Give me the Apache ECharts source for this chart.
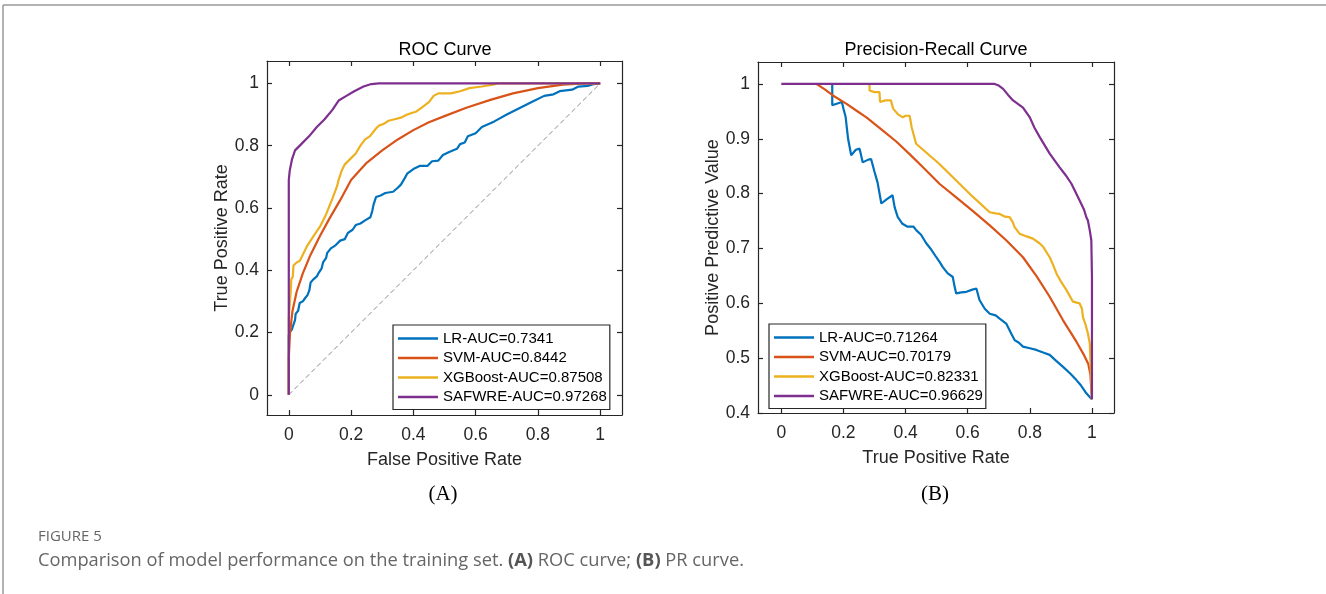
<!DOCTYPE html>
<html><head><meta charset="utf-8">
<script src="https://cdn.jsdelivr.net/npm/echarts@6/dist/echarts.min.js"></script>
<style>html,body{margin:0;padding:0;background:#fff}#c{width:1326px;height:594px}</style>
</head><body><div id="c"></div>
<script>
// ---------- data ----------
const rocTicks = [0, 0.2, 0.4, 0.6, 0.8, 1];
const prXTicks = [0, 0.2, 0.4, 0.6, 0.8, 1];
const prYTicks = [0.4, 0.5, 0.6, 0.7, 0.8, 0.9, 1];

const rocNames = ['LR-AUC=0.7341', 'SVM-AUC=0.8442', 'XGBoost-AUC=0.87508', 'SAFWRE-AUC=0.97268'];
const prNames = ['LR-AUC=0.71264', 'SVM-AUC=0.70179', 'XGBoost-AUC=0.82331', 'SAFWRE-AUC=0.96629'];

const rocDiagonal = [[0, 0], [1, 1]];

const rocLR = [[0,0],[0,0.19],[0.003,0.2],[0.01,0.21],[0.015,0.225],[0.02,0.24],[0.022,0.26],[0.03,0.27],[0.035,0.295],[0.045,0.3],[0.052,0.31],[0.06,0.32],[0.066,0.335],[0.07,0.36],[0.078,0.37],[0.09,0.38],[0.095,0.39],[0.105,0.405],[0.11,0.425],[0.12,0.44],[0.123,0.455],[0.135,0.47],[0.15,0.48],[0.165,0.495],[0.18,0.5],[0.19,0.52],[0.205,0.53],[0.215,0.545],[0.23,0.55],[0.245,0.56],[0.262,0.57],[0.268,0.59],[0.272,0.61],[0.28,0.635],[0.295,0.64],[0.31,0.648],[0.335,0.652],[0.35,0.665],[0.36,0.675],[0.372,0.695],[0.38,0.71],[0.4,0.725],[0.42,0.735],[0.445,0.735],[0.46,0.75],[0.48,0.752],[0.495,0.77],[0.515,0.78],[0.54,0.79],[0.55,0.805],[0.565,0.81],[0.575,0.83],[0.6,0.84],[0.62,0.86],[0.66,0.878],[0.7,0.9],[0.74,0.92],[0.78,0.94],[0.82,0.96],[0.85,0.965],[0.87,0.975],[0.91,0.98],[0.93,0.99],[0.96,0.992],[0.98,0.998],[1,1]];
const rocSVM = [[0,0],[0,0.12],[0.004,0.2],[0.012,0.27],[0.025,0.33],[0.045,0.39],[0.07,0.45],[0.1,0.51],[0.13,0.565],[0.165,0.625],[0.2,0.69],[0.25,0.745],[0.3,0.785],[0.35,0.82],[0.4,0.85],[0.45,0.875],[0.5,0.895],[0.57,0.922],[0.65,0.948],[0.72,0.968],[0.8,0.985],[0.88,0.996],[0.95,1],[1,1]];
const rocXGB = [[0,0],[0,0.25],[0.003,0.29],[0.006,0.33],[0.008,0.37],[0.013,0.38],[0.015,0.415],[0.025,0.425],[0.035,0.43],[0.045,0.45],[0.06,0.48],[0.08,0.51],[0.1,0.54],[0.12,0.58],[0.14,0.63],[0.155,0.67],[0.16,0.69],[0.17,0.72],[0.18,0.74],[0.2,0.76],[0.215,0.775],[0.23,0.8],[0.245,0.82],[0.26,0.83],[0.28,0.855],[0.29,0.865],[0.305,0.87],[0.32,0.88],[0.34,0.885],[0.36,0.89],[0.38,0.9],[0.41,0.91],[0.43,0.925],[0.45,0.94],[0.465,0.96],[0.48,0.968],[0.52,0.968],[0.55,0.975],[0.58,0.985],[0.62,0.99],[0.66,0.997],[0.67,1],[1,1]];
const rocSAF = [[0,0],[0,0.69],[0.003,0.72],[0.01,0.755],[0.02,0.785],[0.04,0.805],[0.065,0.83],[0.09,0.86],[0.115,0.885],[0.14,0.915],[0.16,0.945],[0.185,0.96],[0.21,0.975],[0.24,0.99],[0.265,0.998],[0.29,1],[1,1]];

const prLR = [[0.164,1],[0.164,0.961],[0.195,0.967],[0.2,0.955],[0.207,0.94],[0.215,0.9],[0.225,0.87],[0.24,0.88],[0.252,0.882],[0.262,0.857],[0.28,0.862],[0.289,0.863],[0.3,0.84],[0.31,0.82],[0.322,0.782],[0.34,0.79],[0.358,0.797],[0.365,0.775],[0.375,0.757],[0.39,0.745],[0.405,0.74],[0.425,0.74],[0.435,0.733],[0.45,0.725],[0.466,0.71],[0.48,0.7],[0.499,0.684],[0.51,0.675],[0.52,0.666],[0.535,0.655],[0.552,0.648],[0.558,0.63],[0.563,0.618],[0.58,0.62],[0.596,0.621],[0.615,0.625],[0.628,0.627],[0.638,0.606],[0.655,0.59],[0.671,0.581],[0.69,0.578],[0.703,0.572],[0.724,0.563],[0.74,0.545],[0.751,0.533],[0.765,0.528],[0.778,0.521],[0.8,0.518],[0.821,0.515],[0.845,0.51],[0.864,0.506],[0.885,0.495],[0.907,0.484],[0.93,0.472],[0.95,0.46],[0.965,0.45],[0.982,0.436],[0.995,0.428],[1,0.425]];
const prSVM = [[0.113,1],[0.14,0.99],[0.166,0.979],[0.209,0.964],[0.24,0.952],[0.274,0.939],[0.3,0.927],[0.327,0.915],[0.37,0.895],[0.413,0.872],[0.456,0.848],[0.509,0.818],[0.563,0.793],[0.617,0.768],[0.671,0.742],[0.724,0.715],[0.778,0.684],[0.821,0.65],[0.864,0.612],[0.907,0.569],[0.95,0.53],[0.975,0.505],[0.988,0.49],[0.995,0.47],[1,0.425]];
const prXGB = [[0.284,1],[0.284,0.988],[0.3,0.985],[0.316,0.985],[0.318,0.967],[0.335,0.97],[0.353,0.97],[0.36,0.955],[0.375,0.945],[0.391,0.939],[0.4,0.942],[0.413,0.942],[0.42,0.92],[0.434,0.891],[0.509,0.854],[0.563,0.824],[0.617,0.794],[0.671,0.766],[0.69,0.764],[0.703,0.763],[0.72,0.758],[0.735,0.757],[0.745,0.748],[0.751,0.739],[0.767,0.727],[0.79,0.722],[0.81,0.718],[0.83,0.71],[0.843,0.703],[0.864,0.684],[0.875,0.67],[0.886,0.654],[0.9,0.64],[0.918,0.624],[0.939,0.603],[0.96,0.6],[0.968,0.59],[0.971,0.575],[0.98,0.56],[0.987,0.545],[0.993,0.527],[1,0.425]];
const prSAF = [[0,1],[0.687,1],[0.7,0.997],[0.714,0.991],[0.73,0.98],[0.746,0.97],[0.778,0.957],[0.8,0.939],[0.815,0.92],[0.832,0.903],[0.864,0.873],[0.896,0.848],[0.915,0.834],[0.934,0.818],[0.96,0.788],[0.975,0.77],[0.982,0.757],[0.987,0.751],[0.993,0.733],[0.998,0.715],[1,0.65],[1,0.425]];

// ---------- styling ----------
const colors = ['#0072BD', '#D95319', '#EDB120', '#7E2F8E'];
const FONT = '"Liberation Sans", Arial, sans-serif';
const AX = '#262626';
const fmt = v => String(Math.round(v * 10) / 10);

function valAxis(opt) {
  const base = {
    type: 'value', min: opt.min, max: opt.max, gridIndex: opt.grid,
    position: opt.position, scale: false,
    axisLine: { show: true, onZero: false, lineStyle: { color: AX, width: 1.2 } },
    axisTick: { show: true, inside: true, length: 5, lineStyle: { color: AX, width: 1.2 }, customValues: opt.ticks },
    axisLabel: opt.labels ? { show: true, customValues: opt.ticks, formatter: fmt, color: AX, fontSize: 17.5, fontFamily: FONT, margin: opt.margin } : { show: false },
    splitLine: { show: false }
  };
  if (opt.name) {
    base.name = opt.name; base.nameLocation = 'middle'; base.nameGap = opt.nameGap;
    base.nameTextStyle = { color: AX, fontSize: 18, fontFamily: FONT };
  }
  return base;
}

function line(name, data, color, xi, yi) {
  return { name, type: 'line', data, xAxisIndex: xi, yAxisIndex: yi, showSymbol: false, symbol: 'none',
    lineStyle: { color, width: 2.2 }, itemStyle: { color }, animation: false, silent: true, z: 3 };
}

function legend(names, left, top) {
  return { data: names, left, top, orient: 'vertical', icon: 'rect', itemWidth: 40, itemHeight: 2.6, itemGap: 2.5,
    padding: [5, 3, 4, 5], borderColor: AX, borderWidth: 1.2, backgroundColor: '#fff', selectedMode: false,
    textStyle: { color: '#000', fontSize: 15, fontFamily: FONT, lineHeight: 17 } };
}

const chart = echarts.init(document.getElementById('c'), null, { renderer: 'canvas' });
chart.setOption({
  backgroundColor: '#fff',
  animation: false,
  grid: [
    { left: 267, top: 61, width: 355, height: 354 },
    { left: 758, top: 62, width: 356, height: 351 }
  ],
  xAxis: [
    valAxis({ grid: 0, min: -0.07, max: 1.07, position: 'bottom', ticks: rocTicks, labels: true, margin: 11, name: 'False Positive Rate', nameGap: 36 }),
    valAxis({ grid: 1, min: -0.075, max: 1.071, position: 'bottom', ticks: prXTicks, labels: true, margin: 11, name: 'True Positive Rate', nameGap: 36 }),
    valAxis({ grid: 0, min: -0.07, max: 1.07, position: 'top', ticks: rocTicks, labels: false }),
    valAxis({ grid: 1, min: -0.075, max: 1.071, position: 'top', ticks: prXTicks, labels: false })
  ],
  yAxis: [
    valAxis({ grid: 0, min: -0.065, max: 1.072, position: 'left', ticks: rocTicks, labels: true, margin: 8, name: 'True Positive Rate', nameGap: 36 }),
    valAxis({ grid: 1, min: 0.4, max: 1.04, position: 'left', ticks: prYTicks, labels: true, margin: 8, name: 'Positive Predictive Value', nameGap: 35 }),
    valAxis({ grid: 0, min: -0.065, max: 1.072, position: 'right', ticks: rocTicks, labels: false }),
    valAxis({ grid: 1, min: 0.4, max: 1.04, position: 'right', ticks: prYTicks, labels: false })
  ],
  legend: [legend(rocNames, 393, 325), legend(prNames, 769, 324)],
  series: [
    { name: 'diag', type: 'line', data: rocDiagonal, xAxisIndex: 0, yAxisIndex: 0, showSymbol: false, symbol: 'none',
      lineStyle: { color: '#8c8c8c', width: 1, type: [5, 3] }, silent: true, z: 2 },
    line(rocNames[0], rocLR, colors[0], 0, 0),
    line(rocNames[1], rocSVM, colors[1], 0, 0),
    line(rocNames[2], rocXGB, colors[2], 0, 0),
    line(rocNames[3], rocSAF, colors[3], 0, 0),
    line(prNames[0], prLR, colors[0], 1, 1),
    line(prNames[1], prSVM, colors[1], 1, 1),
    line(prNames[2], prXGB, colors[2], 1, 1),
    line(prNames[3], prSAF, colors[3], 1, 1)
  ],
  graphic: [
    { type: 'line', shape: { x1: 3, y1: 5, x2: 1326, y2: 5 }, style: { stroke: '#999', lineWidth: 1.5 }, silent: true },
    { type: 'line', shape: { x1: 3, y1: 5, x2: 3, y2: 594 }, style: { stroke: '#999', lineWidth: 1.5 }, silent: true },
    { type: 'text', x: 445, y: 50, style: { text: 'ROC Curve', fill: '#000', font: '18px ' + FONT, align: 'center', verticalAlign: 'middle' } },
    { type: 'text', x: 936, y: 50, style: { text: 'Precision-Recall Curve', fill: '#000', font: '18px ' + FONT, align: 'center', verticalAlign: 'middle' } },
    { type: 'text', x: 443, y: 494, style: { text: '(A)', fill: '#000', font: '21px "Liberation Serif", "Times New Roman", serif', align: 'center', verticalAlign: 'middle' } },
    { type: 'text', x: 935, y: 494, style: { text: '(B)', fill: '#000', font: '21px "Liberation Serif", "Times New Roman", serif', align: 'center', verticalAlign: 'middle' } },
    { type: 'text', x: 38, y: 537, style: { text: 'FIGURE 5', fill: '#666', font: '15px "Open Sans", sans-serif', verticalAlign: 'middle' } },
    { type: 'text', x: 38, y: 561, style: {
        text: '{n|Comparison of model performance on the training set. }{b|(A)}{n| ROC curve; }{b|(B)}{n| PR curve.}',
        verticalAlign: 'middle',
        rich: {
          n: { fill: '#666', fontSize: 18.3, fontFamily: '"Open Sans", sans-serif' },
          b: { fill: '#555', fontSize: 18.3, fontWeight: 'bold', fontFamily: '"Open Sans", sans-serif' }
        } } }
  ]
});
</script>
</body></html>
